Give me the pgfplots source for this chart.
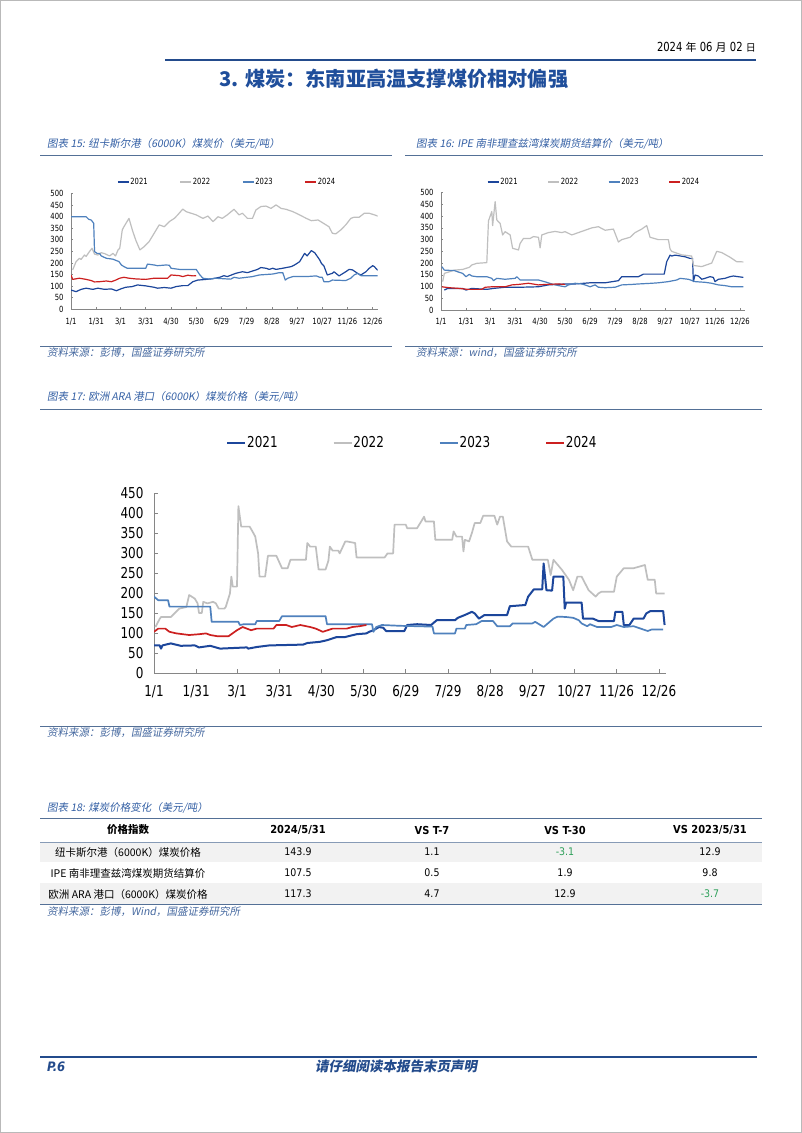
\documentclass[border=0pt]{standalone}
\usepackage{fontspec}
\usepackage{pgfplots}
\pgfplotsset{compat=1.18}
\setmainfont{DejaVu Sans}
\newfontfamily\cjk{Noto Sans CJK SC}
\newfontfamily\cjkit{Noto Sans CJK SC}[FakeSlant=0.18]
\newfontfamily\numf{DejaVu Sans}[FakeStretch=0.8]
\newfontfamily\tabf{DejaVu Sans}[FakeStretch=0.9]

\definecolor{c21}{RGB}{28,70,155}
\definecolor{c22}{RGB}{191,191,191}
\definecolor{c23}{RGB}{79,129,189}
\definecolor{c24}{RGB}{204,32,32}
\definecolor{titleblue}{RGB}{31,78,155}
\definecolor{hdrblue}{RGB}{35,75,140}
\definecolor{capblue}{RGB}{52,96,165}
\definecolor{capline}{RGB}{84,112,150}
\definecolor{srcblue}{RGB}{70,105,160}
\definecolor{rowgray}{RGB}{242,242,242}
\definecolor{tgreen}{RGB}{46,160,90}
\definecolor{axisgray}{RGB}{134,134,134}

\pgfplotsset{
  coalbase/.style={
    scale only axis, xmin=0, ymin=0,
    axis lines=left, axis line style={-, draw=axisgray, line width=0.8pt},
    xtick={0,30,59,89,119,149,179,209,239,269,299,329,359},
    xticklabels={1/1,1/31,3/1,3/31,4/30,5/30,6/29,7/29,8/28,9/27,10/27,11/26,12/26},
    tick align=inside, tick style={draw=axisgray, line width=0.6pt},
    /pgf/number format/assume math mode=true,
    legend columns=4,
    every axis plot/.append style={line join=round},
  },
  smallc/.style={coalbase, width=306.7pt, height=116pt, xmax=365, ymax=500,
    ytick={0,50,...,500}, major tick length=2pt,
    tick label style={font=\numf\fontsize{8.5}{9}\selectfont},
    yticklabel style={xshift=-4pt},
    xticklabel style={yshift=-5pt},
    legend style={draw=none, fill=none, inner sep=0pt, anchor=west,
      font=\numf\fontsize{8.5}{9}\selectfont, nodes={inner sep=1pt},
      /tikz/every even column/.append style={column sep=31pt}},
    legend image code/.code={\draw[##1] (0pt,0pt) -- (11pt,0pt);},
    every axis plot/.append style={line width=1.2pt},
  },
  bigc/.style={coalbase, width=512pt, height=180pt, xmax=364, ymax=450,
    ytick={0,50,...,450}, major tick length=4pt,
    tick label style={font=\numf\fontsize{15}{16}\selectfont},
    yticklabel style={xshift=-7pt},
    xticklabel style={yshift=-9pt},
    legend style={draw=none, fill=none, inner sep=0pt, anchor=west,
      font=\numf\fontsize{15}{16}\selectfont, nodes={inner sep=1pt},
      /tikz/every even column/.append style={column sep=54pt}},
    legend image code/.code={\draw[##1] (0pt,0pt) -- (18pt,0pt);},
    every axis plot/.append style={line width=1.7pt},
  },
}

\begin{document}
\begin{tikzpicture}[x=1pt,y=-1pt]
\path[use as bounding box] (0,0) rectangle (802,1133);
\fill[white] (0,0) rectangle (802,1133);
\draw[gray!55,line width=1pt] (0.5,0.5) rectangle (801.5,1132.5);

% header
\node[anchor=east,inner sep=0pt] at (756,47) {\numf\fontsize{12.5}{14}\selectfont 2024 {\cjk\fontsize{11}{14}\selectfont 年} 06 {\cjk\fontsize{11}{14}\selectfont 月} 02 {\cjk\fontsize{10}{14}\selectfont 日}};
\draw[hdrblue,line width=2pt] (165,59.5) -- (756,59.5);
\node[font=\cjk\bfseries\fontsize{20.2}{22}\selectfont,text=titleblue] at (394,79) {3. 煤炭：东南亚高温支撑煤价相对偏强};

% captions / rules chart 15 & 16
\node[anchor=west,inner sep=0pt,font=\cjkit\fontsize{10.5}{12}\selectfont,text=capblue] at (47,144) {图表 15: 纽卡斯尔港（6000K）煤炭价（美元/吨）};
\node[anchor=west,inner sep=0pt,font=\cjkit\fontsize{10.5}{12}\selectfont,text=capblue] at (416,144) {图表 16: IPE 南非理查兹湾煤炭期货结算价（美元/吨）};
\draw[capline,line width=1.5pt] (40,155.5) -- (392,155.5);
\draw[capline,line width=1.5pt] (405,155.5) -- (763,155.5);
\draw[capline,line width=1pt] (40,346) -- (392,346);
\draw[capline,line width=1pt] (405,346) -- (763,346);
\node[anchor=west,inner sep=0pt,font=\cjkit\fontsize{10.5}{12}\selectfont,text=srcblue] at (47,353) {资料来源：彭博，国盛证券研究所};
\node[anchor=west,inner sep=0pt,font=\cjkit\fontsize{10.5}{12}\selectfont,text=srcblue] at (416,353) {资料来源：wind，国盛证券研究所};

% chart 17 caption
\node[anchor=west,inner sep=0pt,font=\cjkit\fontsize{10.5}{12}\selectfont,text=capblue] at (47,397) {图表 17: 欧洲 ARA 港口（6000K）煤炭价格（美元/吨）};
\draw[capline,line width=1.5pt] (40,409.5) -- (762,409.5);
\draw[capline,line width=1pt] (40,726.5) -- (762,726.5);
\node[anchor=west,inner sep=0pt,font=\cjkit\fontsize{10.5}{12}\selectfont,text=srcblue] at (47,733) {资料来源：彭博，国盛证券研究所};

% ---------------- chart 15 ----------------
\begin{axis}[smallc, at={(71pt,-309.3pt)}, anchor=south west,
  legend style={at={(0.150,1.097)}}]
\addplot[c21] coordinates {(0,83)(6,76)(12,86)(18,91)(26,86)(32,91)(40,86)(48,88)(54,80)(60,89)(65,95)(73,98)(79,105)(89,101)(99,95)(103,91)(111,94)(119,91)(125,98)(133,102)(139,102)(145,119)(151,126)(161,129)(169,132)(177,138)(182,145)(186,141)(196,155)(204,162)(210,158)(222,172)(226,180)(232,177)(236,172)(240,177)(244,172)(252,177)(262,184)(266,191)(272,205)(278,241)(281,230)(286,253)(290,244)(296,213)(298,198)(301,187)(305,148)(311,155)(313,162)(319,144)(327,162)(331,172)(335,170)(341,155)(345,148)(351,162)(355,177)(359,188)(361,184)(365,168)};
\addlegendentry{2021}
\addplot[c22] coordinates {(2,170)(6,205)(10,220)(12,215)(16,234)(18,228)(22,249)(25,263)(28,238)(32,234)(36,244)(40,240)(46,230)(50,241)(53,230)(56,256)(58,263)(61,342)(63,356)(69,392)(73,342)(77,299)(82,256)(87,270)(93,292)(99,328)(105,364)(111,356)(117,378)(123,392)(127,407)(133,432)(137,421)(143,414)(149,407)(157,392)(163,402)(169,378)(175,399)(180,392)(186,407)(194,431)(200,407)(204,414)(210,392)(216,392)(220,428)(226,443)(232,445)(238,435)(244,450)(250,435)(256,431)(264,421)(272,407)(280,392)(286,382)(294,385)(299,374)(307,356)(311,328)(315,325)(321,342)(327,364)(333,392)(337,397)(343,397)(349,414)(355,414)(361,407)(365,402)};
\addlegendentry{2022}
\addplot[c23] coordinates {(0,399)(18,399)(21,388)(24,385)(27,371)(28,249)(31,241)(34,241)(36,230)(42,220)(50,216)(54,210)(57,206)(60,191)(63,184)(67,177)(89,177)(91,195)(99,191)(103,188)(113,191)(117,190)(119,177)(129,172)(149,172)(153,150)(157,134)(165,130)(171,134)(190,130)(194,138)(200,134)(216,141)(224,148)(240,152)(248,158)(252,158)(255,126)(258,134)(264,141)(280,141)(292,144)(296,138)(299,138)(301,119)(307,119)(311,126)(327,124)(333,134)(337,148)(341,155)(345,145)(365,145)};
\addlegendentry{2023}
\addplot[c24] coordinates {(0,148)(2,129)(10,134)(18,129)(24,124)(28,118)(34,119)(42,122)(48,119)(52,124)(58,134)(63,138)(69,134)(77,131)(89,129)(99,134)(115,134)(119,148)(129,145)(133,141)(139,147)(145,144)(149,145)};
\addlegendentry{2024}
\end{axis}

% ---------------- chart 16 ----------------
\begin{axis}[smallc, width=304pt, height=117.3pt, at={(441pt,-310pt)}, anchor=south west,
  legend style={at={(0.151,1.091)}, /tikz/every even column/.append style={column sep=29pt}}]
\addplot[c21] coordinates {(4,85)(8,92)(26,92)(30,85)(37,92)(55,88)(63,92)(77,97)(95,97)(117,99)(129,107)(149,111)(161,111)(179,116)(197,116)(213,125)(217,142)(237,142)(243,153)(268,153)(271,206)(275,234)(277,230)(281,234)(293,227)(299,220)(302,220)(303,121)(305,149)(309,145)(313,131)(317,135)(323,142)(327,139)(329,121)(333,131)(341,135)(347,142)(351,145)(357,142)(363,139)};
\addlegendentry{2021}
\addplot[c22] coordinates {(2,121)(4,156)(10,163)(16,170)(26,173)(34,182)(37,192)(43,199)(55,202)(57,380)(61,420)(62,360)(65,462)(67,384)(71,369)(74,320)(77,334)(83,320)(86,263)(93,256)(95,284)(99,305)(107,305)(111,313)(117,310)(119,265)(121,320)(129,330)(137,335)(145,330)(149,334)(157,320)(165,330)(173,340)(181,350)(189,355)(197,340)(207,345)(213,290)(217,300)(227,310)(233,330)(241,345)(247,360)(251,310)(261,300)(273,300)(275,260)(277,250)(289,235)(301,230)(303,190)(313,185)(325,200)(331,250)(337,245)(347,225)(355,206)(363,205)};
\addlegendentry{2022}
\addplot[c23] coordinates {(1,185)(4,170)(16,168)(20,163)(26,156)(30,142)(34,152)(37,145)(43,142)(55,142)(61,135)(63,125)(67,135)(77,131)(89,135)(91,142)(95,128)(117,128)(121,124)(127,118)(133,111)(141,104)(149,99)(153,107)(161,114)(169,111)(173,107)(179,99)(185,107)(189,97)(197,95)(209,97)(217,107)(229,109)(237,111)(253,114)(261,116)(273,121)(283,128)(287,135)(297,131)(305,121)(317,118)(325,114)(333,107)(341,104)(349,99)(363,99)};
\addlegendentry{2023}
\addplot[c24] coordinates {(1,99)(10,95)(22,92)(32,88)(49,88)(53,97)(61,99)(77,99)(85,107)(93,109)(105,114)(117,107)(125,109)(141,111)(149,109)};
\addlegendentry{2024}
\end{axis}

% ---------------- chart 17 ----------------
\begin{axis}[bigc, at={(154pt,-673pt)}, anchor=south west,
  legend style={at={(0.1406,1.278)}}]
\addplot[c21, line width=2pt] coordinates {(0,69)(4,69)(5,61)(6,69)(12,74)(19,68)(29,69)(32,64)(40,68)(47,61)(66,64)(67,61)(73,65)(82,69)(106,71)(109,75)(118,78)(123,82)(130,90)(136,90)(144,97)(151,99)(153,103)(156,107)(160,115)(163,113)(165,105)(178,105)(180,120)(187,122)(197,120)(201,132)(214,132)(216,138)(221,145)(226,153)(228,149)(231,136)(235,145)(251,145)(253,167)(264,170)(266,191)(270,209)(276,209)(277,274)(279,207)(283,206)(284,241)(291,241)(292,161)(293,176)(304,176)(305,136)(312,136)(316,130)(327,130)(328,153)(333,153)(334,120)(338,120)(341,136)(348,136)(350,149)(353,155)(362,155)(363,120)};
\addlegendentry{2021}
\addplot[c22] coordinates {(1,115)(4,135)(5,140)(12,140)(18,161)(23,165)(25,195)(29,186)(31,174)(32,150)(34,150)(35,178)(38,174)(42,178)(44,174)(46,161)(50,161)(51,165)(54,199)(55,241)(56,216)(59,216)(60,417)(62,366)(68,366)(70,354)(72,341)(74,299)(75,241)(79,241)(81,293)(87,293)(91,262)(95,262)(97,283)(108,283)(109,325)(111,316)(115,316)(117,259)(122,259)(124,281)(125,316)(127,306)(131,306)(132,299)(136,329)(137,329)(143,325)(144,289)(164,289)(166,299)(170,299)(171,371)(179,371)(180,362)(187,362)(190,379)(192,391)(193,379)(199,379)(200,333)(212,333)(213,354)(215,341)(219,341)(220,304)(221,333)(224,329)(226,350)(228,375)(232,375)(234,393)(242,393)(244,371)(246,391)(248,391)(251,329)(254,316)(266,316)(269,283)(280,283)(282,245)(284,283)(290,258)(295,233)(298,207)(301,241)(304,241)(309,207)(314,191)(316,199)(318,203)(327,203)(329,241)(334,262)(341,262)(349,270)(351,233)(356,233)(357,199)(363,199)};
\addlegendentry{2022}
\addplot[c23] coordinates {(0,191)(3,182)(10,182)(11,166)(40,166)(41,128)(60,128)(61,120)(64,122)(72,122)(73,130)(89,130)(91,142)(122,142)(123,122)(155,122)(156,103)(158,115)(162,120)(175,118)(198,116)(199,99)(214,99)(215,111)(221,111)(222,120)(229,122)(233,130)(241,130)(244,117)(253,117)(255,124)(269,124)(271,128)(277,115)(280,124)(284,136)(287,141)(293,140)(298,138)(302,132)(304,124)(308,117)(310,122)(315,115)(325,115)(329,120)(334,115)(341,117)(346,111)(351,105)(354,109)(362,109)};
\addlegendentry{2023}
\addplot[c24] coordinates {(0,103)(3,111)(8,111)(11,103)(16,99)(25,95)(32,97)(37,99)(40,95)(45,92)(53,92)(55,97)(59,107)(63,115)(69,107)(73,111)(85,111)(87,120)(94,120)(98,115)(104,120)(111,115)(115,111)(120,103)(127,111)(137,111)(141,115)(146,117)(151,120)};
\addlegendentry{2024}
\end{axis}

% ---------------- table ----------------
\node[anchor=west,inner sep=0pt,font=\cjkit\fontsize{10.5}{12}\selectfont,text=capblue] at (47,808) {图表 18: 煤炭价格变化（美元/吨）};
\fill[rowgray] (40,842) rectangle (762,862);
\fill[rowgray] (40,883) rectangle (762,904);
\draw[capline,line width=1.5pt] (40,818.5) -- (762,818.5);
\draw[capline!70,line width=0.5pt] (40,842) -- (762,842);
\draw[capline,line width=1.5pt] (40,904.5) -- (762,904.5);
\node[font=\cjk\bfseries\fontsize{10.5}{12}\selectfont] at (128,830) {价格指数};
\begin{scope}[every node/.style={font=\tabf\bfseries\fontsize{11}{12}\selectfont}]
\node at (298,830) {2024/5/31};
\node at (432,830) {VS T-7};
\node at (565,830) {VS T-30};
\node at (710,830) {VS 2023/5/31};
\end{scope}
\begin{scope}[every node/.style={font=\cjk\fontsize{10.5}{12}\selectfont}]
\node at (128,852) {纽卡斯尔港（6000K）煤炭价格};
\node at (128,873) {IPE 南非理查兹湾煤炭期货结算价};
\node at (128,894) {欧洲 ARA 港口（6000K）煤炭价格};
\end{scope}
\begin{scope}[every node/.style={font=\tabf\fontsize{10.5}{12}\selectfont}]
\node at (298,852) {143.9}; \node at (432,852) {1.1}; \node[text=tgreen] at (565,852) {-3.1}; \node at (710,852) {12.9};
\node at (298,873) {107.5}; \node at (432,873) {0.5}; \node at (565,873) {1.9}; \node at (710,873) {9.8};
\node at (298,894) {117.3}; \node at (432,894) {4.7}; \node at (565,894) {12.9}; \node[text=tgreen] at (710,894) {-3.7};
\end{scope}
\node[anchor=west,inner sep=0pt,font=\cjkit\fontsize{10.5}{12}\selectfont,text=srcblue] at (47,912) {资料来源：彭博，Wind，国盛证券研究所};

% footer
\draw[hdrblue,line width=2pt] (40,1057) -- (757,1057);
\node[anchor=west,inner sep=0pt,font=\tabf\bfseries\itshape\fontsize{13}{14}\selectfont,text=hdrblue] at (47,1067) {P.6};
\node[font=\cjkit\bfseries\fontsize{13.5}{15}\selectfont,text=hdrblue] at (396,1066) {请仔细阅读本报告末页声明};
\end{tikzpicture}
\end{document}
